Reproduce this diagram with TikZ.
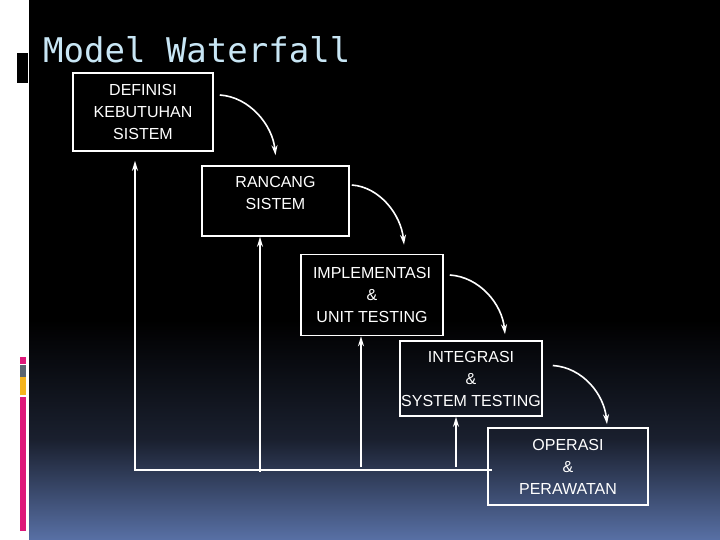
\documentclass[tikz,border=0pt]{standalone}
\usepackage{fontspec}
\setmainfont{Liberation Sans}
\newfontfamily\titlefont{DejaVu Sans Mono}
\usetikzlibrary{arrows.meta}
\definecolor{slideblue}{RGB}{88,112,165}
\definecolor{slidemid}{RGB}{26,32,47}
\definecolor{titleblue}{RGB}{200,230,245}
\definecolor{barpink}{RGB}{222,24,122}
\definecolor{bargray}{RGB}{90,100,112}
\definecolor{baryellow}{RGB}{245,180,30}

\begin{document}
\begin{tikzpicture}[x=1pt,y=-1pt,
    stage/.style={draw=white, line width=1.6pt, text=white, align=center,
      font=\fontsize{16}{22}\selectfont, inner sep=0pt},
    flow/.style={white, line width=1.6pt, -{Stealth[length=10pt,width=6pt]}},
    back/.style={white, line width=1.6pt, -{Stealth[length=10pt,width=6pt]}}
  ]
    \useasboundingbox (0,0) rectangle (720,540);
    % slide background
    \fill[white] (0,0) rectangle (29,540);
    \fill[black] (29,0) rectangle (720,321);
    \shade[top color=black, bottom color=slidemid] (29,320) rectangle (720,441);
    \shade[top color=slidemid, bottom color=slideblue] (29,440) rectangle (720,540);
    \fill[black] (17,53) rectangle (28,83);
    \fill[barpink] (20,357) rectangle (26,364);
    \fill[bargray] (20,365) rectangle (26,377);
    \fill[baryellow] (20,377) rectangle (26,395);
    \fill[barpink] (20,397) rectangle (26,531);

    \node (title) [anchor=base west, inner sep=0pt, text=titleblue,
      font=\titlefont\fontsize{34}{40}\selectfont] at (43,63) {Model Waterfall};

    % the stages
    \node (def) [stage, minimum width=140, minimum height=78] at (143,112)
      {DEFINISI\\KEBUTUHAN\\SISTEM};
    \node (ran) [stage, minimum width=147, minimum height=70] at (275.5,201)
      {RANCANG\\SISTEM\\[-6pt]};
    \node (imp) [stage, minimum width=142, minimum height=81] at (372,295)
      {IMPLEMENTASI\\\&\\UNIT TESTING};
    \node (int) [stage, minimum width=142, minimum height=75] at (471,378.5)
      {INTEGRASI\\\&\\SYSTEM TESTING};
    \node (ope) [stage, minimum width=160, minimum height=77] at (568,466.5)
      {OPERASI\\\&\\PERAWATAN};

    % falling arrows
    \draw[flow] ([shift={(6,-17)}]def.east) .. controls +(30,2) and +(-3,-30) .. ([shift={(0,-10)}]ran.north);
    \draw[flow] ([shift={(2,-16)}]ran.east) .. controls +(28,2) and +(-3,-30) .. ([shift={(32,-9)}]imp.north);
    \draw[flow] ([shift={(6,-20)}]imp.east) .. controls +(30,2) and +(-3,-30) .. ([shift={(34,-6)}]int.north);
    \draw[flow] ([shift={(10,-13)}]int.east) .. controls +(30,2) and +(-3,-30) .. ([shift={(39,-3)}]ope.north);

    % feedback lines
    \coordinate (corner) at (135,470);
    \coordinate (b2) at (260,472);
    \coordinate (b3) at (361,467);
    \coordinate (b4) at (456,467);
    \draw[back, shorten >=9pt] ([shift={(5,3.5)}]ope.west) -- (corner) -- (corner |- def.south);
    \draw[back] (b2) -- (b2 |- ran.south);
    \draw[back] (b3) -- (b3 |- imp.south);
    \draw[back] (b4) -- (b4 |- int.south);

\end{tikzpicture}
\end{document}
